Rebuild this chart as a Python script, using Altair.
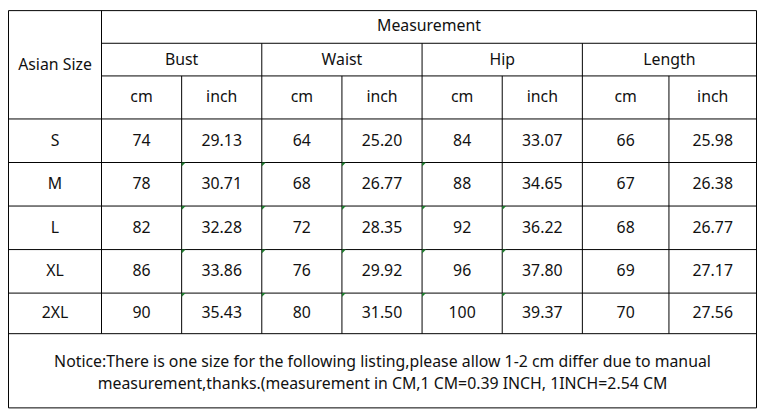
import altair as alt
import pandas as pd

# ---- data ----
sizes = ["S", "M", "L", "XL", "2XL"]
bust_cm = [74, 78, 82, 86, 90]
bust_inch = [29.13, 30.71, 32.28, 33.86, 35.43]
waist_cm = [64, 68, 72, 76, 80]
waist_inch = [25.20, 26.77, 28.35, 29.92, 31.50]
hip_cm = [84, 88, 92, 96, 100]
hip_inch = [33.07, 34.65, 36.22, 37.80, 39.37]
length_cm = [66, 67, 68, 69, 70]
length_inch = [25.98, 26.38, 26.77, 27.17, 27.56]
groups = ["Bust", "Waist", "Hip", "Length"]
units = ["cm", "inch"]
title_text = "Measurement"
size_header = "Asian Size"
notice_lines = [
    "Notice:There is one size for the following listing,please allow 1-2 cm differ due to manual",
    "measurement,thanks.(measurement in CM,1 CM=0.39 INCH, 1INCH=2.54 CM",
]
# Excel "number stored as text" markers: (column index, first row index)
marker_cols = [2, 3, 4, 5, 6]
marker_first_row = [1, 1, 1, 1, 2]

# ---- layout ----
x0 = 4.5
col_w = [94, 81, 81, 81, 81, 81, 81, 87.5, 88.5]
cx = [x0]
for w in col_w:
    cx.append(cx[-1] + w)
ry = [4.5, 37.5, 70.5, 114, 158, 202, 246, 290, 331, 406]
right = cx[-1]
FONT = "Noto Sans"
FS = 16

# ---- segments ----
segs = []
def seg(xa, xb, ya, yb):
    segs.append({"x": xa, "x2": xb, "y": ya, "y2": yb})

seg(cx[0], right, ry[0], ry[0])
seg(cx[0], right, ry[-1], ry[-1])
seg(cx[0], cx[0], ry[0], ry[-1])
seg(right, right, ry[0], ry[-1])
seg(cx[1], right, ry[1], ry[1])
seg(cx[1], right, ry[2], ry[2])
for r in ry[3:-1]:
    seg(cx[0], right, r, r)
seg(cx[1], cx[1], ry[0], ry[-2])
for gi in range(1, 4):
    xg = cx[1 + 2 * gi]
    seg(xg, xg, ry[1], ry[-2])
for gi in range(4):
    xu = cx[2 + 2 * gi]
    seg(xu, xu, ry[2], ry[-2])
lines_df = pd.DataFrame(segs)

# ---- texts ----
texts = []
def txt(t, x, y):
    texts.append({"t": t, "x": x, "y": y})

txt(title_text, (cx[1] + right) / 2, (ry[0] + ry[1]) / 2 - 0.5)
txt(size_header, (cx[0] + cx[1]) / 2, (ry[0] + ry[3]) / 2)
for gi, g in enumerate(groups):
    txt(g, (cx[1 + 2 * gi] + cx[3 + 2 * gi]) / 2, (ry[1] + ry[2]) / 2)
    for ui, u in enumerate(units):
        c = 1 + 2 * gi + ui
        txt(u, (cx[c] + cx[c + 1]) / 2, (ry[2] + ry[3]) / 2)
cols = [bust_cm, bust_inch, waist_cm, waist_inch, hip_cm, hip_inch, length_cm, length_inch]
for ri, s in enumerate(sizes):
    yc = (ry[3 + ri] + ry[4 + ri]) / 2
    txt(s, (cx[0] + cx[1]) / 2, yc)
    for ci, col in enumerate(cols):
        v = col[ri]
        label = f"{v:.2f}" if ci % 2 == 1 else str(v)
        txt(label, (cx[1 + ci] + cx[2 + ci]) / 2, yc)
nmid = (ry[-2] + ry[-1]) / 2
txt(notice_lines[0], (cx[0] + right) / 2, nmid - 9)
txt(notice_lines[1], (cx[0] + right) / 2, nmid + 13.5)
text_df = pd.DataFrame(texts)

# ---- markers ----
marks = []
for c, r0 in zip(marker_cols, marker_first_row):
    for r in range(r0, len(sizes)):
        marks.append({"x": cx[c] + 2, "y": ry[3 + r] + 2})
mark_df = pd.DataFrame(marks)

xs = alt.Scale(domain=[4, 761], nice=False, zero=False)
ys = alt.Scale(domain=[4, 407], nice=False, zero=False, reverse=True)

rules = alt.Chart(lines_df).mark_rule(color="#000000", strokeWidth=1).encode(
    x=alt.X("x:Q", scale=xs, axis=None),
    x2="x2:Q",
    y=alt.Y("y:Q", scale=ys, axis=None),
    y2="y2:Q",
)
labels = alt.Chart(text_df).mark_text(
    font=FONT, fontSize=FS, color="#111111", align="center", baseline="middle"
).encode(
    x=alt.X("x:Q", scale=xs, axis=None),
    y=alt.Y("y:Q", scale=ys, axis=None),
    text="t:N",
)
tri = alt.Chart(mark_df).mark_point(
    shape="M-1,-1L1,-1L-1,1Z", filled=True, color="#1f7a2e", size=16, opacity=1
).encode(
    x=alt.X("x:Q", scale=xs, axis=None),
    y=alt.Y("y:Q", scale=ys, axis=None),
)

chart = (
    alt.layer(rules, tri, labels)
    .properties(width=757, height=403, background="white", padding=0,
                autosize=alt.AutoSizeParams(type="none"))
    .configure_view(stroke=None)
)
chart.save("out.html", embed_options={"renderer": "svg", "actions": False})
